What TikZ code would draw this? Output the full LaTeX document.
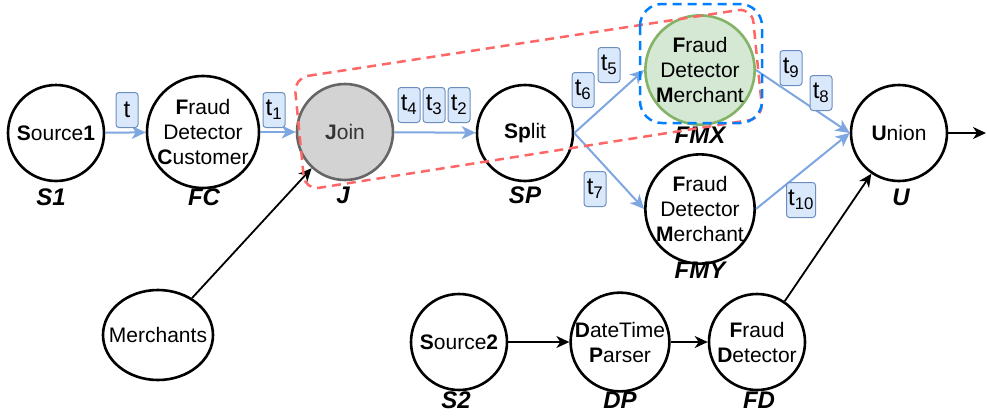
\documentclass[tikz,border=0pt]{standalone}
\usepackage{fontspec}
\setmainfont{Liberation Sans}
\usetikzlibrary{arrows.meta,shapes.geometric}
\definecolor{bluearrow}{HTML}{7EA6E0}
\definecolor{tfill}{HTML}{DAE8FC}
\definecolor{tdraw}{HTML}{6C8EBF}
\definecolor{greenfill}{HTML}{D5E8D4}
\definecolor{greendraw}{HTML}{82B366}
\definecolor{grayfill}{HTML}{D3D3D3}
\definecolor{graydraw}{HTML}{666666}
\definecolor{reddash}{HTML}{FF6666}
\definecolor{bluedash}{HTML}{007FFF}
\tikzset{
  op/.style={circle, draw, line width=2.6pt, minimum size=96pt, inner sep=0pt, align=center,
    font=\fontsize{21}{25}\selectfont},
  lab/.style={font=\fontsize{24}{24}\selectfont\bfseries\itshape, inner sep=0pt},
  tbox/.style={draw=tdraw, fill=tfill, rounded corners=3pt, minimum width=22pt, minimum height=35pt,
    inner sep=0pt, font=\fontsize{24}{24}\selectfont, line width=1pt},
  barrow/.style={draw=bluearrow, line width=2pt, -{Stealth[length=14pt,width=13pt,inset=4pt]}},
  karrow/.style={draw=black, line width=1.8pt, -{Stealth[length=13pt,width=12pt,inset=4pt]}},
}
\begin{document}
\begin{tikzpicture}[x=1pt,y=-1pt]
\useasboundingbox (0,0) rectangle (987,415);
% nodes
\node[op] (S1) at (56,133) {\textbf{S}ource\textbf{1}};
\node[op] (FC) at (203,132) {\textbf{F}raud\\Detector\\\textbf{C}ustomer};
\node[op, fill=grayfill, draw=graydraw, text=black!80] (J) at (345,132) {\textbf{J}oin};
\node[op] (SP) at (525,133) {\textbf{Sp}lit};
\node[op, fill=greenfill, draw=greendraw, minimum size=102pt] (FMX) at (700,70) {\textbf{F}raud\\Detector\\\textbf{M}erchant};
\node[op, minimum size=100pt] (FMY) at (700,209) {\textbf{F}raud\\Detector\\\textbf{M}erchant};
\node[op] (U) at (899,133) {\textbf{U}nion};
\node[ellipse, draw, line width=2.6pt, minimum width=110pt, minimum height=90pt, inner xsep=-12pt, inner ysep=0pt,
  font=\fontsize{21}{25}\selectfont] (M) at (158,335) {Merchants};
\node[op] (S2) at (459,342) {\textbf{S}ource\textbf{2}};
\node[op] (DP) at (620,342) {\textbf{D}ateTime\\\textbf{P}arser};
\node[op] (FD) at (757,342) {\textbf{F}raud\\\textbf{D}etector};
\coordinate (out) at (986,133);
% labels
\node[lab] (lS1) at (51,197) {S1};
\node[lab] (lFC) at (204,197) {FC};
\node[lab] (lJ) at (343,195) {J};
\node[lab] (lSP) at (525,195) {SP};
\node[lab] (lFMX) at (700,135) {FMX};
\node[lab] (lFMY) at (700,270) {FMY};
\node[lab] (lU) at (901,197) {U};
\node[lab] (lS2) at (456,400) {S2};
\node[lab] (lDP) at (620,400) {DP};
\node[lab] (lFD) at (759,400) {FD};
% arrows
\draw[barrow] (S1) -- (FC);
\draw[barrow] (FC) -- (J);
\draw[barrow] (J) -- (SP);
\draw[barrow] (SP.east) -- (FMX.west);
\draw[barrow] (SP.east) -- (FMY.west);
\draw[barrow] (FMX.east) -- (U.west);
\draw[barrow] (FMY.east) -- (U.west);
\draw[karrow] (M) -- (J);
\draw[karrow] (S2) -- (DP);
\draw[karrow] (DP) -- (FD);
\draw[karrow] (FD) -- (U);
\draw[karrow] (U) -- (out);
% t boxes
\node[tbox] (t0) at (127,110) {t};
\node[tbox] (t1) at (274,110) {t\textsubscript{1}};
\node[tbox] (t4) at (409,105) {t\textsubscript{4}};
\node[tbox] (t3) at (434,105) {t\textsubscript{3}};
\node[tbox] (t2) at (459,105) {t\textsubscript{2}};
\node[tbox] (t6) at (583,90) {t\textsubscript{6}};
\node[tbox] (t5) at (609,65) {t\textsubscript{5}};
\node[tbox] (t7) at (595,189) {t\textsubscript{7}};
\node[tbox] (t9) at (791,68) {t\textsubscript{9}};
\node[tbox] (t8) at (821,93) {t\textsubscript{8}};
\node[tbox, minimum width=29pt] (t10) at (801,200) {t\textsubscript{10}};
% dashed groups
\draw[reddash, line width=2.5pt, dash pattern=on 9pt off 6pt, rounded corners=14pt]
  (294,78) -- (752,8) -- (763,118) -- (305,190) -- cycle;
\draw[bluedash, line width=2.5pt, dash pattern=on 9pt off 6pt, rounded corners=22pt]
  (640,4) rectangle (762,123);
\end{tikzpicture}
\end{document}
